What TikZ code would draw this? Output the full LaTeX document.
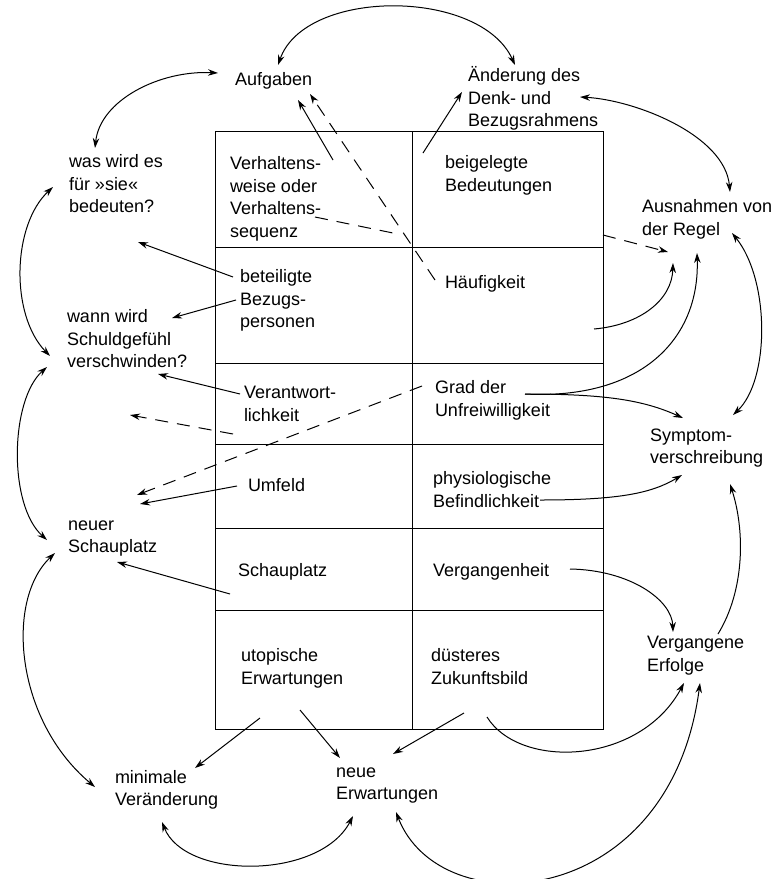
\documentclass[tikz,border=0pt]{standalone}
\usepackage{fontspec}
\setmainfont{Liberation Sans}
\usetikzlibrary{positioning,arrows.meta,calc}
\tikzset{
  lbl/.style={anchor=north west,inner sep=0pt,outer sep=0pt,align=left,
    font=\fontsize{18pt}{22.5pt}\selectfont},
  cell/.style={rectangle,draw,line width=0.8pt,inner sep=0pt,outer sep=0pt},
  flow/.style={-{Stealth[length=10pt,width=6.5pt]},line width=1pt},
  dflow/.style={{Stealth[length=10pt,width=6.5pt]}-{Stealth[length=10pt,width=6.5pt]},line width=1pt},
  hint/.style={flow,dash pattern=on 13pt off 9pt},
}

\begin{document}
\begin{tikzpicture}[x=1pt,y=-1pt]
  \useasboundingbox (0,0) rectangle (776,879);
  % table
  \node[cell,minimum width=197pt,minimum height=116pt,anchor=north west] (r1c1) at (215,131) {};
  \node[cell,minimum width=191pt,minimum height=116pt,right=0pt of r1c1] (r1c2) {};
  \node[cell,minimum width=197pt,minimum height=116pt,below=0pt of r1c1] (r2c1) {};
  \node[cell,minimum width=191pt,minimum height=116pt,right=0pt of r2c1] (r2c2) {};
  \node[cell,minimum width=197pt,minimum height=81pt,below=0pt of r2c1] (r3c1) {};
  \node[cell,minimum width=191pt,minimum height=81pt,right=0pt of r3c1] (r3c2) {};
  \node[cell,minimum width=197pt,minimum height=84pt,below=0pt of r3c1] (r4c1) {};
  \node[cell,minimum width=191pt,minimum height=84pt,right=0pt of r4c1] (r4c2) {};
  \node[cell,minimum width=197pt,minimum height=82pt,below=0pt of r4c1] (r5c1) {};
  \node[cell,minimum width=191pt,minimum height=82pt,right=0pt of r5c1] (r5c2) {};
  \node[cell,minimum width=197pt,minimum height=119pt,below=0pt of r5c1] (r6c1) {};
  \node[cell,minimum width=191pt,minimum height=119pt,right=0pt of r6c1] (r6c2) {};

  % cell texts
  \node[lbl] (verh) at (230,156.5) {Verhaltens-\\weise oder\\Verhaltens-\\sequenz};
  \node[lbl] (beig) at (445,155.5) {beigelegte\\Bedeutungen};
  \node[lbl] (bete) at (240,269.5) {beteiligte\\Bezugs-\\personen};
  \node[lbl] (haeuf) at (445,275.5) {Häufigkeit};
  \node[lbl] (vera) at (244,386.5) {Verantwort-\\lichkeit};
  \node[lbl] (grad) at (435,380.5) {Grad der\\Unfreiwilligkeit};
  \node[lbl] (umf) at (248,478.5) {Umfeld};
  \node[lbl] (phys) at (433,471.5) {physiologische\\Befindlichkeit};
  \node[lbl] (schau) at (238,563.5) {Schauplatz};
  \node[lbl] (verg) at (433,563.5) {Vergangenheit};
  \node[lbl] (utop) at (241,648.5) {utopische\\Erwartungen};
  \node[lbl] (dues) at (431,648.5) {düsteres\\Zukunftsbild};

  % outer ring
  \node[lbl] (aufg) at (235,72) {Aufgaben};
  \node[lbl] (aend) at (468,66.5) {Änderung des\\Denk- und\\Bezugsrahmens};
  \node[lbl] (wasw) at (69,154.5) {was wird es\\für »sie«\\bedeuten?};
  \node[lbl] (ausn) at (642,199.5) {Ausnahmen von\\der Regel};
  \node[lbl] (wann) at (67,309.5) {wann wird\\Schuldgefühl\\verschwinden?};
  \node[lbl] (symp) at (650,428.5) {Symptom-\\verschreibung};
  \node[lbl] (neuS) at (68,520.7) {neuer\\Schauplatz};
  \node[lbl] (vErf) at (647,636.5) {Vergangene\\Erfolge};
  \node[lbl] (mini) at (115,770) {minimale\\Veränderung};
  \node[lbl] (neuE) at (336,767.7) {neue\\Erwartungen};

  % ring arcs
  \draw[dflow] ($(aufg.north west)+(43,-7)$) .. controls +(27,-77) and +(-35,-77) .. ($(aend.north west)+(47,-1.5)$);
  \draw[dflow] ($(aufg.north west)+(-17,1)$) .. controls +(-58,-3) and +(5,-48) .. ($(wasw.north west)+(26,-6.5)$);
  \draw[dflow] ($(wasw.north west)+(-16,32.5)$) .. controls +(-41,38) and +(-40,-41) .. ($(wann.north west)+(-17,46.5)$);
  \draw[dflow] ($(wann.north west)+(-20,57.5)$) .. controls +(-37,33) and +(-39,-35) .. ($(neuS.north west)+(-21,19.3)$);
  \draw[dflow] ($(neuS.north west)+(-13,32.3)$) .. controls +(-50,47) and +(-80,-67) .. ($(mini.north west)+(-20,17)$);
  \draw[dflow] ($(mini.north west)+(47,52)$) .. controls +(23,58) and +(-33,64) .. ($(neuE.north west)+(17,48.3)$);
  \draw[dflow] ($(neuE.north west)+(60,44.3)$) .. controls +(44,114) and +(-30,228) .. ($(vErf.north west)+(53,46.5)$);
  \draw[flow] ($(vErf.north west)+(71,-2.5)$) .. controls +(27,-44) and +(15,46) .. ($(symp.north west)+(80,55.5)$);
  \draw[dflow] ($(symp.north west)+(83,-13.5)$) .. controls +(37,-35) and +(38,47) .. ($(ausn.north west)+(90,33.5)$);
  \draw[dflow] ($(aend.north west)+(112,30.5)$) .. controls +(55,3) and +(-5,-57) .. ($(ausn.north west)+(88,-7.5)$);

  % from the table
  \draw[flow] ($(beig.north west)+(-22,-2.5)$) -- ($(aend.north west)+(-6,25.5)$);
  \draw[flow] ($(verh.north west)+(103,3.5)$) -- ($(aufg.north west)+(63,28)$);
  \draw[hint] ($(haeuf.north west)+(-10,4.5)$) -- ($(aufg.north west)+(75,22)$);
  \draw[hint,-] ($(verh.north west)+(85,60.5)$) -- ($(verh.north west)+(163,76.5)$);
  \draw[hint] ($(r1c2.south east)+(0,-12)$) -- ($(ausn.north west)+(26,52.5)$);
  \draw[flow] ($(bete.north west)+(-7,7.5)$) -- ($(wasw.north west)+(69,87.5)$);
  \draw[flow] ($(bete.north west)+(-4,30.5)$) -- ($(wann.north west)+(105,8.5)$);
  \draw[flow] ($(haeuf.north west)+(149,53.5)$) .. controls +(46,-4) and +(-1,37) .. ($(ausn.north west)+(31,63.5)$);
  \draw[flow] ($(grad.north west)+(90,13.5)$) .. controls +(115,6) and +(3,87) .. ($(ausn.north west)+(55,53.5)$);
  \draw[flow] ($(grad.north west)+(90,13.5)$) .. controls +(80,0) and +(-40,-18) .. ($(symp.north west)+(33,-10.5)$);
  \draw[flow] ($(phys.north west)+(107,28.5)$) .. controls +(80,0) and +(-30,18) .. ($(symp.north west)+(32,46.5)$);
  \draw[flow] ($(verg.north west)+(137,5.5)$) .. controls +(60,1) and +(-1,-32) .. ($(vErf.north west)+(26,-4.5)$);
  \draw[flow] ($(vera.north west)+(-4,7.5)$) -- ($(wann.north west)+(91,64.5)$);
  \draw[hint] ($(vera.north west)+(-11,47.5)$) -- ($(wann.north west)+(63,105.5)$);
  \draw[hint] ($(grad.north west)+(-13,5.5)$) -- ($(neuS.north west)+(69,-25.7)$);
  \draw[flow] ($(umf.north west)+(-11,7.5)$) -- ($(neuS.north west)+(72,-16.7)$);
  \draw[flow] ($(schau.north west)+(-8,30.5)$) -- ($(neuS.north west)+(49,41.3)$);
  \draw[flow] ($(utop.north west)+(19,69.5)$) -- ($(mini.north west)+(80,-2)$);
  \draw[flow] ($(utop.north west)+(59,61.5)$) -- ($(neuE.north west)+(4,-9.7)$);
  \draw[flow] ($(dues.north west)+(33,64.5)$) -- ($(neuE.north west)+(57,-13.7)$);
  \draw[flow] ($(dues.north west)+(56,68.5)$) .. controls +(33,53) and +(-44,82) .. ($(vErf.north west)+(37,46.5)$);
\end{tikzpicture}
\end{document}
